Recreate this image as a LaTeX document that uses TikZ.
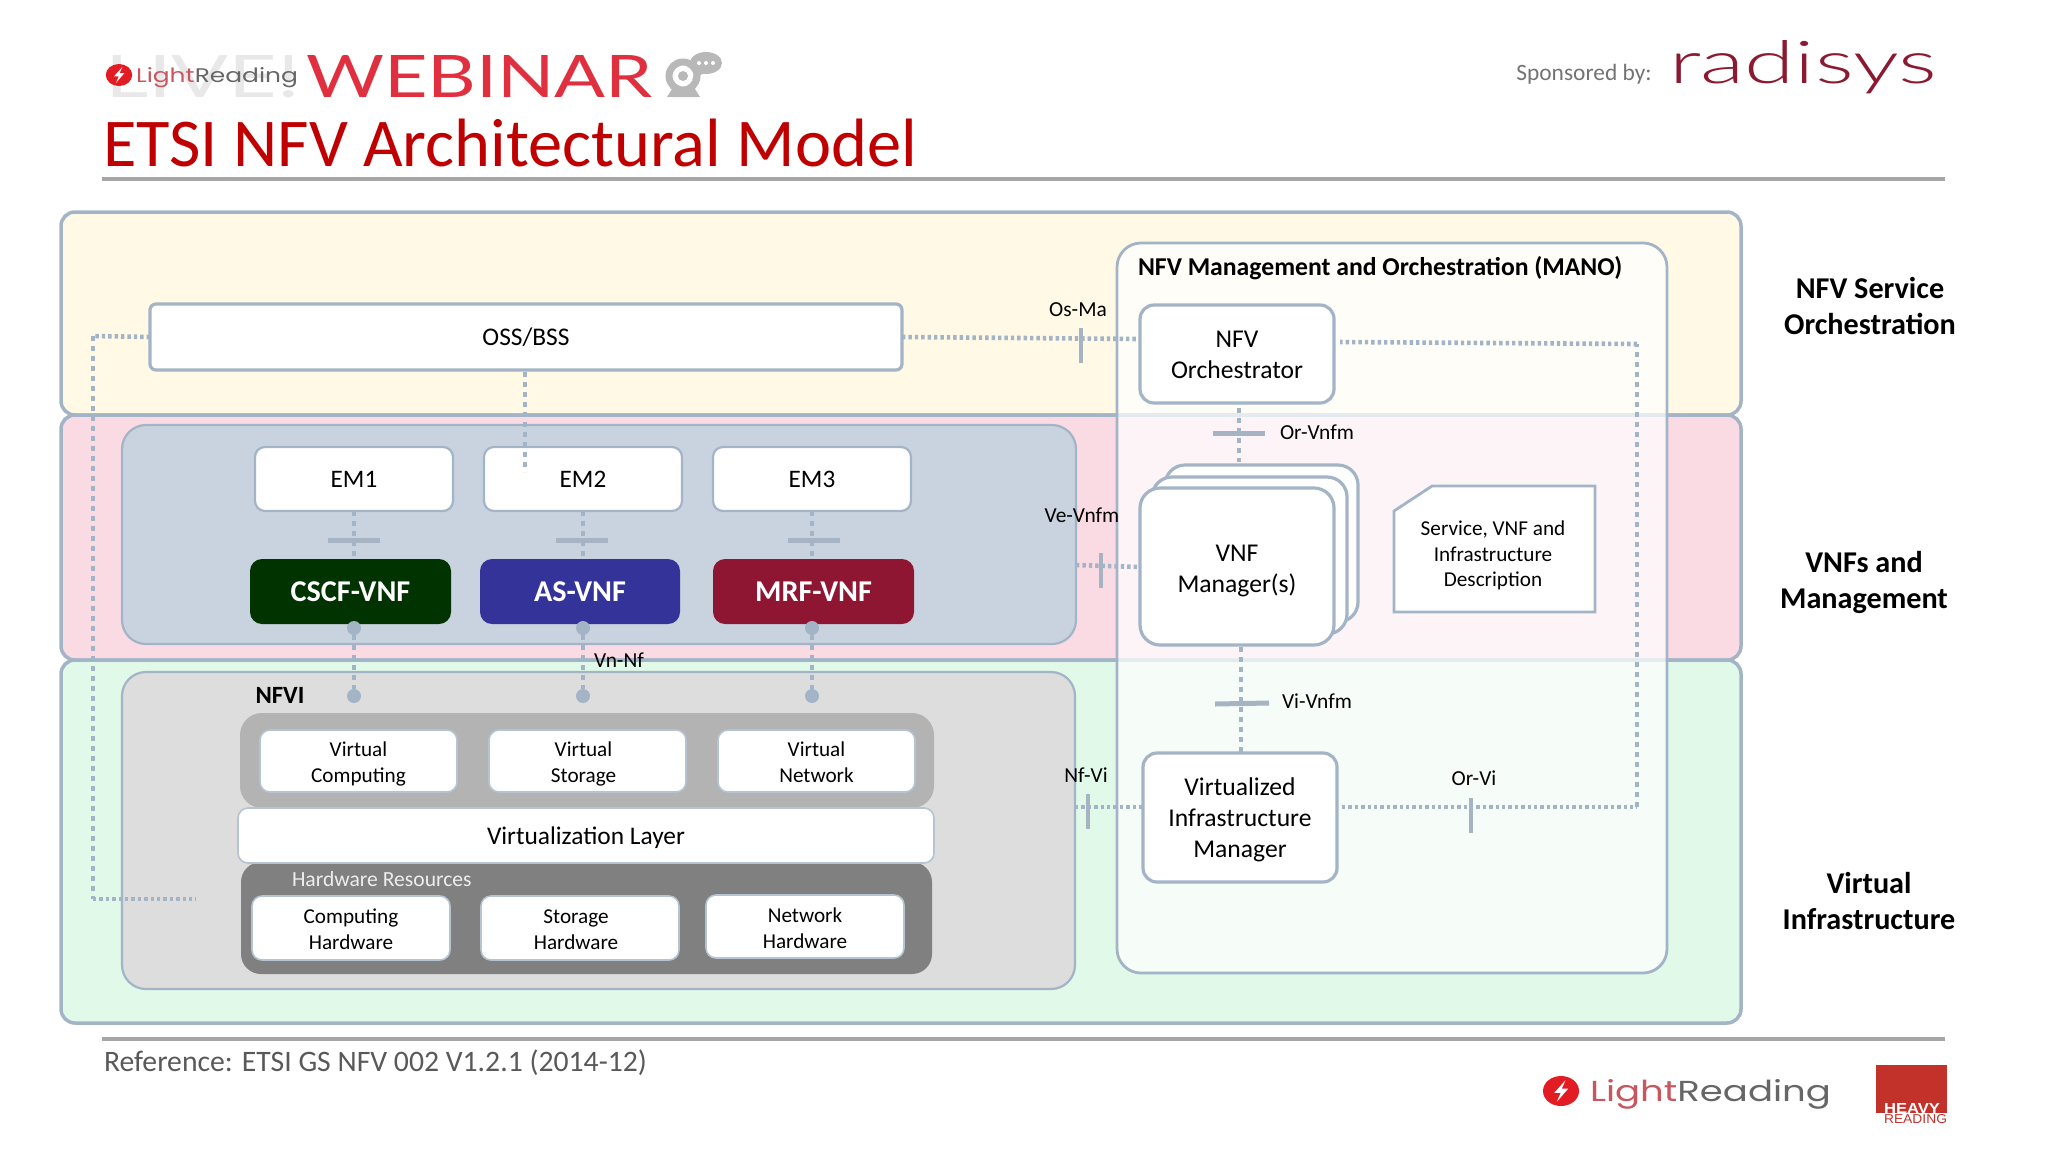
\documentclass[tikz,border=0pt]{standalone}
\usepackage{fontspec}
\usepackage{graphicx}
\setmainfont{Carlito}
\newfontfamily\thinf{Lato Light}
\newfontfamily\webf{Lato}
\newfontfamily\logof{Poppins}
\newfontfamily\hvf{Liberation Sans}
\definecolor{edge}{HTML}{A3B4C7}
\definecolor{tickc}{HTML}{A6B3C3}
\definecolor{titlered}{HTML}{C00000}
\definecolor{lrred}{HTML}{E31B23}
\definecolor{lrlight}{HTML}{C8565F}
\definecolor{lrgrey}{HTML}{666666}
\definecolor{webred}{HTML}{E0303F}
\definecolor{radred}{HTML}{8B1A30}
\definecolor{hvred}{HTML}{C3312B}
\newcommand{\fsz}[2]{\fontsize{#1}{#2}\selectfont}
% \bx[style]{name}{x1}{y1}{x2}{y2}{text}
\newcommand{\bx}[7][]{%
  \pgfmathsetmacro{\bxcx}{(#3+#5)/2}\pgfmathsetmacro{\bxcy}{(#4+#6)/2}%
  \pgfmathsetmacro{\bxw}{(#5-#3)*0.5}\pgfmathsetmacro{\bxh}{(#6-#4)*0.5}%
  \node[#1,minimum width=\bxw pt,minimum height=\bxh pt] (#2) at (\bxcx,\bxcy) {#7};}
\newcommand{\fitw}[3]{\resizebox{\dimexpr #1pt/2\relax}{\dimexpr #2pt/2\relax}{#3}}
\newcommand{\tl}[2]{\raisebox{#1}[0pt][0pt]{\begin{tabular}{@{}c@{}}#2\end{tabular}}}
\usetikzlibrary{calc}
\tikzset{
  every node/.style={inner sep=0pt,outer sep=0pt},
  band/.style={draw=edge,line width=1.75pt,rounded corners=7pt},
  panel/.style={draw=edge,line width=1.1pt,rounded corners=12pt},
  wbox/.style={draw=edge,line width=1.1pt,fill=white,rounded corners=5pt,align=center,font=\fsz{12}{15.5}},
  mbox/.style={draw=edge,line width=1.6pt,fill=white,rounded corners=7pt,align=center,font=\fsz{12.8}{15.5}},
  vnf/.style={fill=#1,rounded corners=6pt,text=white,font=\bfseries\fsz{15.1}{17}},
  smallbox/.style={draw=edge!80,line width=.8pt,fill=white,rounded corners=5pt,align=center,font=\fsz{10.6}{13}},
  lab/.style={font=\fsz{10.7}{12},text=black},
  side/.style={font=\bfseries\fsz{15.1}{18},align=center},
  vdash/.style={draw=edge,line width=2pt,dash pattern=on 2.5pt off 2.5pt},
  hdot/.style={draw=edge,line width=2.3pt,dash pattern=on 1.7pt off 1.5pt},
  tick/.style={draw=tickc,line width=1.75pt},
  port/.style={circle,fill=edge,minimum size=7pt},
}
\newcommand{\boltlogo}[3]{%
  \fill[lrred] (#1,#2) ellipse [x radius=#3*1.2,y radius=#3];
  \fill[white] ($(#1,#2)+(#3*.30,-#3*.72)$) -- ($(#1,#2)+(-#3*.45,#3*.12)$) -- ($(#1,#2)+(-#3*.02,#3*.12)$)
     -- ($(#1,#2)+(-#3*.28,#3*.72)$) -- ($(#1,#2)+(#3*.48,-#3*.16)$) -- ($(#1,#2)+(#3*.05,-#3*.16)$) -- cycle;}
\begin{document}
\begin{tikzpicture}[x=0.5pt,y=-0.5pt]
\useasboundingbox (0,0) rectangle (2048,1152);
% header
\node[anchor=base west,text=black!9] (live) at (105,97) {\fitw{195}{42}{\webf LIVE!}};
\boltlogo{119}{75}{11}
\node[anchor=base west] (lrh) at (136,82) {\fitw{162}{15}{\logof\textcolor{lrlight}{Light}\textcolor{lrgrey}{Reading}}};
\node[anchor=base west,text=webred] (web) at (306,97) {\fitw{347}{42}{\webf WEBINAR}};
% webcam icon
\fill[black!28] (667,97) -- (672,89) -- (695,89) -- (700,97) -- cycle;
\draw[black!28,line width=3.5pt,fill=white] (683,76) circle (7pt);
\fill[black!28] (683,76) circle (2.5pt);
\fill[black!28] (706,63) ellipse [x radius=8pt,y radius=5.5pt];
\fill[black!28] (696,70) -- (692,80) -- (704,73) -- cycle;
\foreach \q in {699,706,713}{\fill[white] (\q,63) circle (1pt);}
\node[anchor=base west,text=titlered,font=\fsz{34.2}{38}] (title) at (103,166) {ETSI NFV Architectural Model};
\draw[black!35,line width=2.2pt] (102,179) -- (1945,179);
\node[anchor=center,text=black!55,font=\fsz{11.7}{14}] (spon) at (1584,74) {Sponsored by:};
\node[anchor=base west,text=radred] (rad) at (1669,83) {\fitw{268}{43}{\thinf radisys}};
% bands
\definecolor{cyel}{HTML}{FFF9E5}
\definecolor{cpink}{HTML}{FBDBE3}
\definecolor{cgrn}{HTML}{E0F9E9}
\bx[band,fill=cyel]{nsband}{61}{212}{1741}{415}{}
\bx[band,fill=cpink]{vmband}{61}{415}{1741}{660}{}
\bx[band,fill=cgrn]{viband}{61}{660}{1741}{1023}{}
% left panels
\definecolor{cpanel}{HTML}{C9D3E0}
\definecolor{cnfvi}{HTML}{DDDDDE}
\bx[panel,fill=cpanel]{vnfpanel}{122}{425}{1076}{644}{}
\bx[panel,fill=cnfvi]{nfvipanel}{122}{672}{1075}{989}{}
% MANO
\draw[draw=edge,line width=1.4pt,fill=white,fill opacity=.72,rounded corners=12pt] (1117,243) rectangle (1667,973);
\node[anchor=west,font=\bfseries\fsz{12.85}{15}] (manot) at (1138,268) {NFV Management and Orchestration (MANO)};
% OSS and EM
\bx[wbox,draw=edge,line width=1.6pt,rounded corners=3pt,font=\fsz{12.7}{15}]{oss}{150}{304}{902}{370}{OSS/BSS}
\bx[wbox,font=\fsz{12.6}{15}]{em1}{255}{447}{453}{511}{EM1}
\bx[wbox,font=\fsz{12.6}{15}]{em2}{484}{447}{682}{511}{EM2}
\bx[wbox,font=\fsz{12.6}{15}]{em3}{713}{447}{911}{511}{EM3}
\definecolor{ccscf}{HTML}{003300}
\definecolor{cas}{HTML}{333399}
\definecolor{cmrf}{HTML}{8F1633}
\bx[vnf=ccscf]{cscf}{250}{559}{451}{624}{CSCF-VNF}
\bx[vnf=cas]{asv}{480}{559}{680}{624}{AS-VNF}
\bx[vnf=cmrf]{mrf}{713}{559}{914}{624}{MRF-VNF}
% NFVI
\node[font=\bfseries\fsz{12.4}{15}] (nfvi) at (280,695) {NFVI};
\definecolor{cvg}{HTML}{B3B3B3}
\bx[fill=cvg,rounded corners=11pt]{vgroup}{240}{713}{934}{808}{}
\bx[smallbox]{vc}{260}{730}{457}{792}{\tl{-4.6pt}{Virtual\\Computing}}
\bx[smallbox]{vs}{489}{730}{686}{792}{\hspace*{-4pt}\tl{-4.6pt}{Virtual\\Storage}}
\bx[smallbox]{vn}{718}{730}{915}{792}{\tl{-4.6pt}{Virtual\\Network}}
\bx[fill=black!50,rounded corners=10pt]{hgroup}{241}{862}{932}{974}{}
\bx[smallbox,font=\fsz{12.7}{15}]{vl}{238}{808}{934}{863}{\raisebox{-4.4pt}[0pt][0pt]{Virtualization Layer}}
\node[anchor=west,text=black!7,font=\fsz{10.8}{13}] (hwr) at (292,879) {Hardware Resources};
\bx[smallbox]{ch}{252}{896}{450}{960}{\tl{-4.4pt}{Computing\\Hardware}}
\bx[smallbox]{sh}{481}{896}{679}{960}{\hspace*{-4pt}\tl{-4.4pt}{Storage\\Hardware}}
\bx[smallbox]{nh}{706}{895}{904}{958}{\tl{-4.4pt}{Network\\Hardware}}
% MANO content
\bx[mbox]{orch}{1140}{305}{1334}{403}{\tl{-4.2pt}{NFV\\Orchestrator}}
\bx[mbox,rounded corners=10pt]{vm3}{1165}{465}{1358}{622}{}
\bx[mbox,rounded corners=10pt]{vm2}{1152}{477}{1347}{634}{}
\bx[mbox,rounded corners=10pt]{vnfm}{1140}{488}{1334}{645}{\tl{-5pt}{VNF\\Manager(s)}}
\bx[mbox]{vim}{1143}{753}{1337}{882}{\tl{-4.5pt}{Virtualized\\Infrastructure\\Manager}}
\draw[draw=edge,line width=1.4pt,fill=white] (1432,486) -- (1595,486) -- (1595,612) -- (1394,612) -- (1394,511) -- cycle;
\node[align=center,font=\fsz{10.6}{12.8}] (doc) at (1493,554) {\tl{-3.7pt}{Service, VNF and\\Infrastructure\\Description}};
% connectors
\coordinate (lt) at (93,336);
\coordinate (lb) at (93,899);
\coordinate (le) at (196,899);
\draw[hdot] (oss.west) -- (lt);
\draw[vdash] (lt) -- (lb);
\draw[hdot] (lb) -- (le);
\coordinate (osse) at ($(oss.south)+(-1,2)$);
\coordinate (em2in) at (525,472);
\draw[vdash] (osse) -- (em2in);
\draw[hdot] (oss.east) -- ($(orch.west)+(0,-15)$);
\draw[tick] (1081,328) -- (1081,363);
\node[lab] (osma) at (1078,310) {Os-Ma};
\draw[vdash] (354,511) -- (354,559);
\draw[vdash] (583,511) -- (583,559);
\draw[vdash] (812,511) -- (812,559);
\foreach \a/\b in {328/380,556/608,788/840}{\draw[tick,line width=2.5pt] (\a,540) -- (\b,540);}
\foreach \n/\q in {a/354,b/583,c/812}{
  \node[port] (top\n) at (\q,628) {};
  \node[port] (bot\n) at (\q,696) {};
  \draw[vdash] (top\n) -- (bot\n);
}
\node[lab] (vnnf) at (619,660) {Vn-Nf};
\draw[vdash] (1239,408) -- (1239,462);
\draw[tick,line width=2.5pt] (1213,433) -- (1265,433);
\node[lab] (orvnfm) at (1317,432) {Or-Vnfm};
\draw[vdash] (1241,647) -- (1241,753);
\draw[tick,line width=2.5pt] (1215,704) -- (1269,703);
\node[lab] (vivnfm) at (1317,701) {Vi-Vnfm};
\draw[hdot] (vnfpanel.east |- 0,565) -- (1140,567);
\draw[tick] (1101,553) -- (1101,588);
\node[lab] (vevnfm) at (1082,515) {Ve-Vnfm};
\draw[hdot] (nfvipanel.east |- 0,807) -- (1143,807);
\draw[tick] (1088,794) -- (1088,829);
\node[lab] (nfvi2) at (1086,775) {Nf-Vi};
\coordinate (rb) at (1637,807);
\coordinate (rt) at (1637,344);
\draw[hdot] (1342,807) -- (rb);
\draw[vdash] (rb) -- (rt);
\draw[hdot] (rt) -- (1340,342);
\draw[tick] (1471,798) -- (1471,833);
\node[lab] (orvi) at (1474,778) {Or-Vi};
% side labels
\node[side] (s1) at (1870,306) {NFV Service\\Orchestration};
\node[side] (s2) at (1864,582) {VNFs and\\Management};
\node[side] (s3) at (1869,901) {Virtual\\Infrastructure};
% footer
\draw[black!35,line width=2.2pt] (102,1039) -- (1945,1039);
\node[anchor=base west,text=black!65,font=\fsz{14.85}{17}] (refn) at (104,1071) {Reference: ETSI GS NFV 002 V1.2.1 (2014-12)};
\boltlogo{1561}{1091}{15}
\node[anchor=base west] (lrf) at (1590,1101) {\fitw{241}{22}{\logof\textcolor{lrlight}{Light}\textcolor{lrgrey}{Reading}}};
\fill[hvred] (1876,1065) rectangle (1947,1113);
\node[anchor=base west,text=white] (hv) at (1884,1113) {\fitw{56}{10}{\hvf\bfseries HEAVY}};
\node[anchor=base west,text=hvred] (rd) at (1884,1123) {\fitw{63}{9}{\hvf READING}};
\end{tikzpicture}
\end{document}
